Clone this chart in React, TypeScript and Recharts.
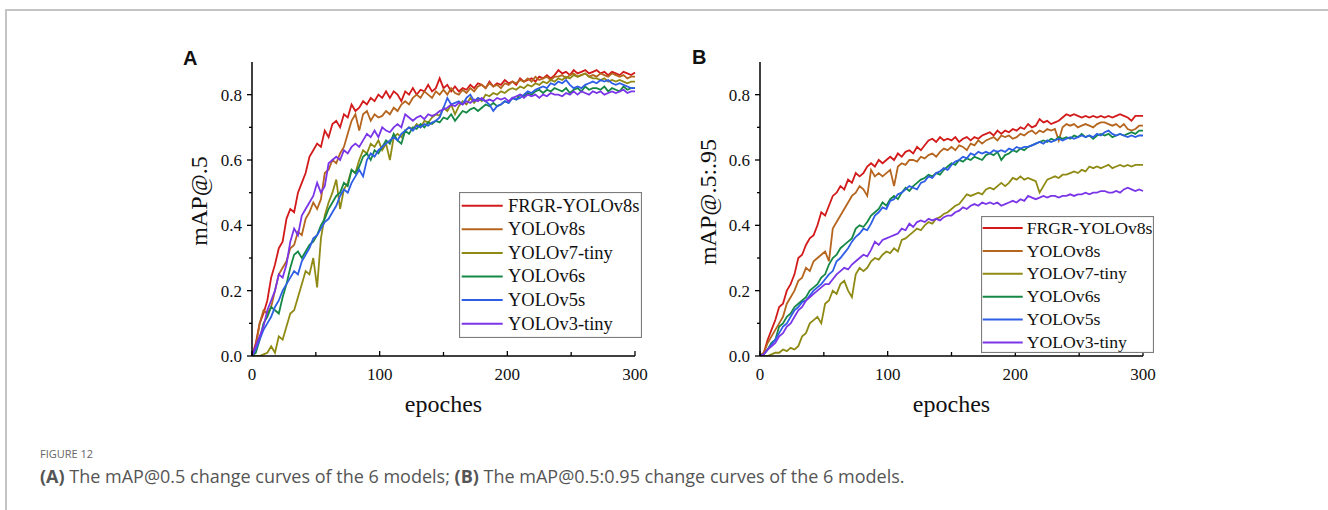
import React from 'react';
import { LineChart, Line, XAxis, YAxis, Legend } from 'recharts';

// epochs sampled every 3
const epochs = Array.from({ length: 101 }, (_, i) => i * 3);

const models = ['FRGR-YOLOv8s', 'YOLOv8s', 'YOLOv7-tiny', 'YOLOv6s', 'YOLOv5s', 'YOLOv3-tiny'];
const keys = ['frgr', 'v8s', 'v7tiny', 'v6s', 'v5s', 'v3tiny'];
const colors = ['#d31a1a', '#b5651d', '#8f8a14', '#168845', '#2f5ee6', '#7a35e8'];

const xTicks = [0, 50, 100, 150, 200, 250, 300];
const yTicks = [0, 0.1, 0.2, 0.3, 0.4, 0.5, 0.6, 0.7, 0.8];

// (A) mAP@.5
const frgrA = [
  0, 0.04, 0.1, 0.13, 0.17, 0.24, 0.28, 0.33, 0.35, 0.42,
  0.45, 0.44, 0.5, 0.53, 0.56, 0.61, 0.63, 0.65, 0.64, 0.69,
  0.67, 0.71, 0.72, 0.7, 0.74, 0.73, 0.77, 0.75, 0.76, 0.78,
  0.77, 0.79, 0.78, 0.8, 0.79, 0.81, 0.79, 0.81, 0.8, 0.78,
  0.81, 0.8, 0.82, 0.8, 0.815, 0.81, 0.83, 0.81, 0.82, 0.85,
  0.82, 0.83, 0.81, 0.825, 0.81, 0.82, 0.815, 0.83, 0.82, 0.835,
  0.83, 0.82, 0.84, 0.825, 0.835, 0.83, 0.845, 0.835, 0.84, 0.83,
  0.85, 0.84, 0.845, 0.85, 0.84, 0.855, 0.85, 0.86, 0.85, 0.86,
  0.875, 0.865, 0.87, 0.86, 0.875, 0.865, 0.87, 0.875, 0.865, 0.87,
  0.875, 0.865, 0.87, 0.86, 0.87, 0.865, 0.86, 0.87, 0.865, 0.86,
  0.868,
];
const v8sA = [
  0, 0.03, 0.1, 0.14, 0.13, 0.15, 0.2, 0.25, 0.27, 0.29,
  0.33, 0.34, 0.38, 0.37, 0.42, 0.44, 0.47, 0.45, 0.48, 0.56,
  0.57, 0.6, 0.59, 0.62, 0.64, 0.68, 0.72, 0.74, 0.69, 0.74,
  0.75, 0.72, 0.74, 0.73, 0.735, 0.75, 0.74, 0.76, 0.75, 0.77,
  0.78, 0.77, 0.79, 0.8, 0.79, 0.81, 0.8, 0.79, 0.81, 0.8,
  0.815, 0.8, 0.82, 0.805, 0.8, 0.815, 0.805, 0.82, 0.81, 0.825,
  0.83, 0.82, 0.835, 0.825, 0.83, 0.82, 0.835, 0.83, 0.84, 0.835,
  0.845, 0.84, 0.85, 0.84, 0.855, 0.845, 0.85, 0.855, 0.845, 0.855,
  0.855, 0.86, 0.85, 0.86, 0.865, 0.855, 0.86, 0.865, 0.855, 0.86,
  0.855, 0.865, 0.86, 0.855, 0.865, 0.86, 0.855, 0.86, 0.85, 0.855,
  0.855,
];
const v7tinyA = [
  0, 0, 0, 0.005, 0.01, 0.03, 0.01, 0.06, 0.05, 0.09,
  0.13, 0.14, 0.18, 0.22, 0.26, 0.25, 0.3, 0.21, 0.36, 0.43,
  0.47, 0.5, 0.54, 0.45, 0.51, 0.53, 0.57, 0.56, 0.6, 0.63,
  0.62, 0.65, 0.64, 0.66, 0.63, 0.65, 0.6, 0.67, 0.68, 0.67,
  0.69, 0.7, 0.695, 0.71, 0.7, 0.72, 0.715, 0.73, 0.74, 0.735,
  0.76, 0.75, 0.77, 0.74, 0.765, 0.78, 0.77, 0.79, 0.775, 0.79,
  0.78, 0.8, 0.795, 0.805, 0.8, 0.81, 0.805, 0.815, 0.82, 0.815,
  0.825, 0.82, 0.83, 0.825, 0.835, 0.83, 0.84, 0.835, 0.845, 0.84,
  0.85, 0.845, 0.855, 0.85, 0.86, 0.855, 0.86, 0.865, 0.855, 0.85,
  0.85, 0.845, 0.85, 0.84, 0.845, 0.84, 0.845, 0.84, 0.835, 0.84,
  0.84,
];
const v6sA = [
  0, 0.01, 0.05, 0.1, 0.12, 0.15, 0.14, 0.13, 0.18, 0.22,
  0.27, 0.31, 0.32, 0.3, 0.32, 0.34, 0.35, 0.37, 0.4, 0.42,
  0.45, 0.47, 0.49, 0.5, 0.53, 0.52, 0.57, 0.56, 0.58, 0.61,
  0.62, 0.6, 0.63, 0.62, 0.64, 0.66, 0.65, 0.68, 0.66, 0.65,
  0.69, 0.68, 0.7, 0.695, 0.71, 0.7, 0.715, 0.71, 0.72, 0.715,
  0.73, 0.725, 0.74, 0.72, 0.735, 0.75, 0.745, 0.755, 0.76, 0.75,
  0.76, 0.77, 0.765, 0.775, 0.765, 0.77, 0.78, 0.775, 0.79, 0.785,
  0.8, 0.795, 0.805, 0.8, 0.81, 0.815, 0.805, 0.815, 0.81, 0.82,
  0.815, 0.81, 0.82, 0.805, 0.815, 0.82, 0.81, 0.825, 0.815, 0.82,
  0.82, 0.815, 0.825, 0.81, 0.82, 0.815, 0.81, 0.825, 0.815, 0.82,
  0.82,
];
const v5sA = [
  0, 0.02, 0.05, 0.08, 0.1, 0.12, 0.15, 0.17, 0.2, 0.22,
  0.24, 0.26, 0.25, 0.29, 0.31, 0.33, 0.36, 0.37, 0.39, 0.41,
  0.42, 0.44, 0.46, 0.49, 0.51, 0.5, 0.53, 0.55, 0.57, 0.55,
  0.6, 0.62, 0.61, 0.63, 0.64, 0.65, 0.66, 0.67, 0.66, 0.68,
  0.69, 0.7, 0.69, 0.705, 0.7, 0.71, 0.705, 0.715, 0.72, 0.73,
  0.76, 0.79, 0.77, 0.775, 0.78, 0.77, 0.79, 0.8, 0.78, 0.79,
  0.785, 0.78, 0.77, 0.75, 0.765, 0.77, 0.78, 0.775, 0.79, 0.785,
  0.79, 0.8, 0.81, 0.805, 0.815, 0.82, 0.825, 0.82, 0.835, 0.83,
  0.84, 0.835, 0.845, 0.83, 0.82, 0.825, 0.82, 0.83, 0.835, 0.84,
  0.835, 0.845, 0.84, 0.845, 0.835, 0.83, 0.835, 0.83, 0.825, 0.82,
  0.82,
];
const v3tinyA = [
  0, 0.03, 0.06, 0.09, 0.14, 0.17, 0.2, 0.25, 0.24, 0.28,
  0.35, 0.39, 0.37, 0.43, 0.45, 0.47, 0.49, 0.53, 0.5, 0.52,
  0.59, 0.6, 0.61, 0.6, 0.63, 0.62, 0.64, 0.65, 0.64, 0.66,
  0.68, 0.67, 0.69, 0.67, 0.7, 0.69, 0.685, 0.7, 0.71, 0.7,
  0.74, 0.73, 0.72, 0.73, 0.735, 0.725, 0.74, 0.735, 0.74, 0.75,
  0.755, 0.76, 0.77, 0.765, 0.775, 0.77, 0.78, 0.775, 0.785, 0.78,
  0.79, 0.78, 0.785, 0.78, 0.79, 0.785, 0.79, 0.78, 0.79, 0.795,
  0.8, 0.79, 0.8, 0.795, 0.8, 0.79, 0.8, 0.795, 0.805, 0.8,
  0.8, 0.795, 0.805, 0.8, 0.81, 0.8, 0.81, 0.805, 0.8, 0.81,
  0.805, 0.81, 0.8, 0.805, 0.81, 0.805, 0.81, 0.815, 0.805, 0.81,
  0.81,
];

// (B) mAP@.5:.95
const frgrB = [
  0, 0.01, 0.05, 0.08, 0.11, 0.15, 0.16, 0.2, 0.22, 0.25,
  0.3, 0.31, 0.34, 0.36, 0.37, 0.4, 0.44, 0.43, 0.46, 0.49,
  0.5, 0.52, 0.51, 0.54, 0.53, 0.56, 0.55, 0.56, 0.58, 0.59,
  0.58, 0.6, 0.59, 0.6, 0.61, 0.6, 0.62, 0.61, 0.625, 0.63,
  0.62, 0.64, 0.63, 0.645, 0.66, 0.665, 0.655, 0.67, 0.66, 0.665,
  0.66, 0.67, 0.655, 0.665, 0.67, 0.66, 0.67, 0.665, 0.675, 0.68,
  0.685, 0.675, 0.69, 0.68, 0.69, 0.685, 0.695, 0.69, 0.7, 0.695,
  0.71, 0.7, 0.705, 0.725, 0.715, 0.72, 0.71, 0.715, 0.72, 0.73,
  0.74, 0.735, 0.74, 0.735, 0.73, 0.735, 0.73, 0.735, 0.73, 0.735,
  0.73, 0.735, 0.73, 0.735, 0.74, 0.735, 0.73, 0.72, 0.735, 0.735,
  0.735,
];
const v8sB = [
  0, 0.01, 0.04, 0.06, 0.08, 0.1, 0.12, 0.16, 0.18, 0.2,
  0.23, 0.24, 0.27, 0.26, 0.29, 0.3, 0.31, 0.32, 0.29, 0.39,
  0.41, 0.43, 0.45, 0.47, 0.49, 0.5, 0.52, 0.51, 0.49, 0.57,
  0.55, 0.56, 0.55, 0.56, 0.57, 0.52, 0.58, 0.59, 0.585, 0.6,
  0.6, 0.595, 0.61, 0.605, 0.615, 0.62, 0.61, 0.625, 0.635, 0.63,
  0.64, 0.63, 0.645, 0.64, 0.63, 0.65, 0.645, 0.66, 0.65, 0.66,
  0.665, 0.67, 0.66, 0.675, 0.67, 0.675, 0.665, 0.67, 0.68, 0.675,
  0.685, 0.69, 0.68, 0.69, 0.685, 0.695, 0.69, 0.695, 0.66, 0.7,
  0.71, 0.705, 0.71, 0.7, 0.705, 0.71, 0.705, 0.7, 0.71, 0.715,
  0.715, 0.71, 0.705, 0.71, 0.7, 0.71, 0.695, 0.69, 0.695, 0.705,
  0.705,
];
const v7tinyB = [
  0, 0, 0, 0.005, 0.01, 0.01, 0.02, 0.015, 0.025, 0.02,
  0.03, 0.06, 0.07, 0.1, 0.11, 0.12, 0.1, 0.16, 0.17, 0.2,
  0.19, 0.22, 0.23, 0.2, 0.18, 0.25, 0.27, 0.26, 0.27, 0.29,
  0.3, 0.295, 0.31, 0.32, 0.315, 0.33, 0.32, 0.355, 0.36, 0.37,
  0.38, 0.39, 0.385, 0.4, 0.41, 0.405, 0.42, 0.425, 0.435, 0.44,
  0.45, 0.46, 0.465, 0.48, 0.495, 0.49, 0.495, 0.5, 0.495, 0.51,
  0.515, 0.51, 0.52, 0.53, 0.52, 0.53, 0.545, 0.54, 0.55, 0.54,
  0.545, 0.54, 0.535, 0.5, 0.52, 0.54, 0.545, 0.55, 0.545, 0.555,
  0.555, 0.56, 0.565, 0.56, 0.57, 0.565, 0.58, 0.575, 0.58, 0.575,
  0.58, 0.585, 0.575, 0.58, 0.585, 0.58, 0.585, 0.58, 0.585, 0.585,
  0.585,
];
const v6sB = [
  0, 0.005, 0.02, 0.04, 0.05, 0.09, 0.1, 0.12, 0.13, 0.15,
  0.16, 0.17, 0.18, 0.2, 0.21, 0.22, 0.24, 0.25, 0.28, 0.3,
  0.31, 0.33, 0.34, 0.35, 0.36, 0.39, 0.4, 0.395, 0.41, 0.43,
  0.44, 0.45, 0.47, 0.46, 0.48, 0.49, 0.48, 0.5, 0.515, 0.505,
  0.52, 0.53, 0.54, 0.545, 0.555, 0.55, 0.56, 0.555, 0.57, 0.58,
  0.59, 0.585, 0.6, 0.595, 0.605, 0.6, 0.61, 0.605, 0.6, 0.615,
  0.62, 0.615, 0.625, 0.6, 0.615, 0.62, 0.63, 0.625, 0.635, 0.63,
  0.64, 0.645, 0.65, 0.655, 0.66, 0.655, 0.665, 0.66, 0.67, 0.665,
  0.67, 0.665, 0.675, 0.67, 0.68, 0.67, 0.675, 0.665, 0.675, 0.68,
  0.675, 0.68, 0.67, 0.675, 0.68, 0.675, 0.68, 0.685, 0.68, 0.69,
  0.69,
];
const v5sB = [
  0, 0.005, 0.02, 0.035, 0.05, 0.07, 0.09, 0.1, 0.12, 0.14,
  0.15, 0.165, 0.17, 0.185, 0.2, 0.21, 0.22, 0.235, 0.25, 0.26,
  0.29, 0.3, 0.315, 0.33, 0.35, 0.365, 0.375, 0.39, 0.385, 0.405,
  0.43, 0.44, 0.455, 0.45, 0.475, 0.48, 0.495, 0.5, 0.51, 0.52,
  0.515, 0.51, 0.53, 0.535, 0.55, 0.545, 0.56, 0.565, 0.575, 0.57,
  0.585, 0.595, 0.6, 0.61, 0.605, 0.62, 0.615, 0.625, 0.62, 0.625,
  0.62, 0.63, 0.625, 0.63, 0.625, 0.635, 0.63, 0.64, 0.635, 0.64,
  0.64, 0.645, 0.65, 0.655, 0.65, 0.66, 0.655, 0.66, 0.665, 0.66,
  0.665, 0.67, 0.665, 0.67, 0.675, 0.67, 0.675, 0.67, 0.68, 0.675,
  0.685, 0.69, 0.68, 0.675, 0.68, 0.675, 0.67, 0.675, 0.67, 0.675,
  0.675,
];
const v3tinyB = [
  0, 0.005, 0.02, 0.03, 0.04, 0.06, 0.07, 0.09, 0.1, 0.12,
  0.14, 0.15, 0.17, 0.18, 0.19, 0.2, 0.21, 0.22, 0.22, 0.235,
  0.25, 0.26, 0.27, 0.265, 0.28, 0.29, 0.3, 0.31, 0.305, 0.325,
  0.35, 0.34, 0.355, 0.36, 0.365, 0.37, 0.375, 0.39, 0.385, 0.405,
  0.395, 0.41, 0.415, 0.41, 0.42, 0.415, 0.42, 0.415, 0.425, 0.43,
  0.43, 0.44, 0.445, 0.455, 0.45, 0.46, 0.465, 0.46, 0.47, 0.465,
  0.47, 0.465, 0.47, 0.46, 0.465, 0.47, 0.475, 0.47, 0.48, 0.475,
  0.49, 0.485, 0.48, 0.485, 0.49, 0.485, 0.49, 0.49, 0.485, 0.49,
  0.49, 0.495, 0.49, 0.495, 0.495, 0.5, 0.495, 0.5, 0.5, 0.505,
  0.505, 0.5, 0.5, 0.505, 0.5, 0.51, 0.515, 0.51, 0.505, 0.51,
  0.505,
];

const buildRows = (series: number[][]) =>
  epochs.map((epoch, i) => {
    const row: Record<string, number> = { epoch };
    keys.forEach((k, j) => {
      row[k] = series[j][i];
    });
    return row;
  });

const dataA = buildRows([frgrA, v8sA, v7tinyA, v6sA, v5sA, v3tinyA]);
const dataB = buildRows([frgrB, v8sB, v7tinyB, v6sB, v5sB, v3tinyB]);

const SERIF = "'Liberation Serif', 'Times New Roman', serif";

const XTick = (props: any) => {
  const { x, y, payload } = props;
  const v = payload.value;
  const major = v % 100 === 0;
  return (
    <g>
      <line x1={x} x2={x} y1={y} y2={y - (major ? 5 : 4)} stroke="#000" strokeWidth={1.3} />
      {major && (
        <text x={x} y={y + 24} textAnchor="middle" fontSize={17} fontFamily={SERIF} fill="#111">
          {v}
        </text>
      )}
    </g>
  );
};

const YTick = (props: any) => {
  const { x, y, payload } = props;
  const v = payload.value;
  const major = Math.round(v * 10) % 2 === 0;
  return (
    <g>
      <line x1={x} x2={x - (major ? 5 : 3)} y1={y} y2={y} stroke="#000" strokeWidth={1.3} />
      {major && (
        <text x={x - 10} y={y + 6} textAnchor="end" fontSize={17} fontFamily={SERIF} fill="#111">
          {v.toFixed(1)}
        </text>
      )}
    </g>
  );
};

interface LegendGeom {
  w: number;
  h: number;
  rowTop: number;
  rowH: number;
  lineX: number;
  lineLen: number;
  textX: number;
  fontSize: number;
}

const LegendBox = ({ g }: { g: LegendGeom }) => (
  <svg width={g.w} height={g.h} style={{ display: 'block', background: '#fff' }}>
    <rect x={0.5} y={0.5} width={g.w - 1} height={g.h - 1} fill="#fff" stroke="#7d7d7d" strokeWidth={1.2} />
    {models.map((m, i) => {
      const cy = g.rowTop + i * g.rowH;
      return (
        <g key={m}>
          <line x1={g.lineX} x2={g.lineX + g.lineLen} y1={cy} y2={cy} stroke={colors[i]} strokeWidth={2} />
          <text x={g.textX} y={cy + g.fontSize * 0.32} fontSize={g.fontSize} fontFamily={SERIF} fill="#111">
            {m}
          </text>
        </g>
      );
    })}
  </svg>
);

interface PanelProps {
  data: Record<string, number>[];
  left: number;
  legendPos: { left: number; top: number };
  legend: LegendGeom;
}

const Panel = ({ data, left, legendPos, legend }: PanelProps) => (
  <div style={{ position: 'absolute', left, top: 50 }}>
    <LineChart width={500} height={340} data={data} margin={{ top: 12, right: 45, bottom: 4, left: 22 }}>
      <XAxis
        dataKey="epoch"
        type="number"
        domain={[0, 300]}
        ticks={xTicks}
        interval={0}
        height={30}
        tickSize={0}
        tickMargin={0}
        tickLine={false}
        tick={(p: any) => <XTick {...p} />}
        axisLine={{ stroke: '#000', strokeWidth: 1.5 }}
      />
      <YAxis
        type="number"
        domain={[0, 0.9]}
        ticks={yTicks}
        interval={0}
        width={50}
        tickSize={0}
        tickMargin={0}
        tickLine={false}
        allowDataOverflow
        tick={(p: any) => <YTick {...p} />}
        axisLine={{ stroke: '#000', strokeWidth: 1.5 }}
      />
      <Legend
        layout="vertical"
        align="center"
        verticalAlign="middle"
        wrapperStyle={{ left: legendPos.left, top: legendPos.top, width: legend.w, height: legend.h }}
        content={() => <LegendBox g={legend} />}
      />
      {keys.map((k, i) => (
        <Line
          key={k}
          type="linear"
          dataKey={k}
          name={models[i]}
          stroke={colors[i]}
          strokeWidth={1.8}
          dot={false}
          activeDot={false}
          isAnimationActive={false}
        />
      ))}
    </LineChart>
  </div>
);

const legendA: LegendGeom = { w: 183, h: 146, rowTop: 13.7, rowH: 23.6, lineX: 2.7, lineLen: 41, textX: 49, fontSize: 18.5 };
const legendB: LegendGeom = { w: 173, h: 137, rowTop: 12, rowH: 22.9, lineX: 1.7, lineLen: 40, textX: 45.7, fontSize: 17.7 };

export default function App() {
  return (
    <div
      style={{
        position: 'absolute',
        left: 0,
        top: 0,
        width: 1328,
        height: 510,
        background: '#fff',
        overflow: 'hidden',
      }}
    >
      <div
        style={{
          position: 'absolute',
          left: 5,
          top: 9,
          width: 1340,
          height: 520,
          borderTop: '2px solid #c4c4c4',
          borderLeft: '2px solid #c4c4c4',
        }}
      />
      <Panel data={dataA} left={180} legendPos={{ left: 279, top: 142 }} legend={legendA} />
      <Panel data={dataB} left={688} legendPos={{ left: 293, top: 166 }} legend={legendB} />
      <svg
        width={1328}
        height={510}
        style={{ position: 'absolute', left: 0, top: 0, pointerEvents: 'none' }}
      >
        <text x={183} y={65} fontSize={20} fontWeight="bold" fontFamily="'Liberation Sans', Arial, sans-serif" fill="#111">
          A
        </text>
        <text x={692} y={64} fontSize={20} fontWeight="bold" fontFamily="'Liberation Sans', Arial, sans-serif" fill="#111">
          B
        </text>
        <text transform="translate(207,201) rotate(-90)" textAnchor="middle" fontSize={24} fontFamily={SERIF} fill="#111">
          mAP@.5
        </text>
        <text transform="translate(716,202) rotate(-90)" textAnchor="middle" fontSize={24} fontFamily={SERIF} fill="#111">
          mAP@.5:.95
        </text>
        <text x={443.5} y={412} textAnchor="middle" fontSize={24} fontFamily={SERIF} fill="#111">
          epoches
        </text>
        <text x={951.5} y={412} textAnchor="middle" fontSize={24} fontFamily={SERIF} fill="#111">
          epoches
        </text>
        <text x={40} y={458} fontSize={11} fontFamily="'Open Sans', sans-serif" fill="#666">
          FIGURE 12
        </text>
        <text x={40} y={483} fontSize={18} fontFamily="'Open Sans', sans-serif" fill="#555">
          <tspan fontWeight="bold">(A)</tspan> The mAP@0.5 change curves of the 6 models; <tspan fontWeight="bold">(B)</tspan> The
          mAP@0.5:0.95 change curves of the 6 models.
        </text>
      </svg>
    </div>
  );
}
